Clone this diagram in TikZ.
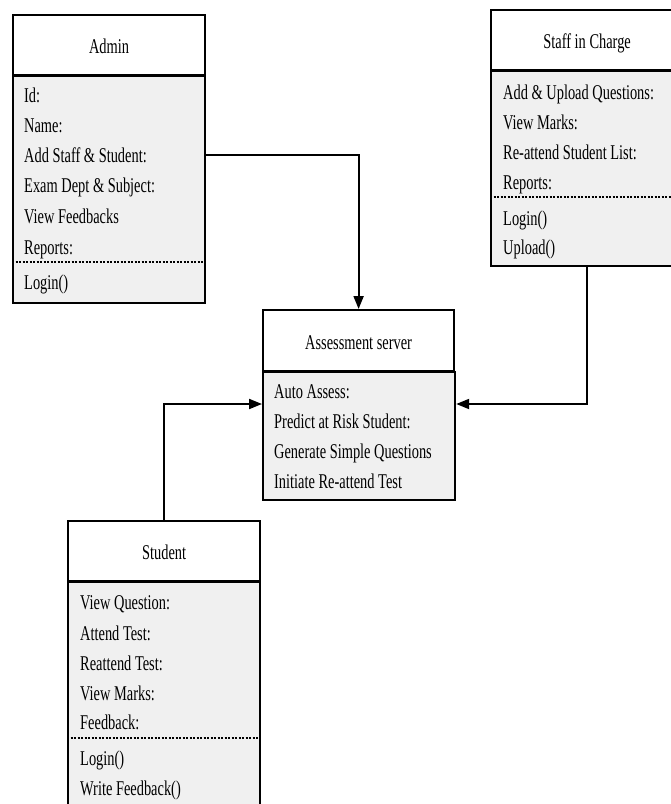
\documentclass[tikz,border=0pt]{standalone}
\usepackage{fontspec}
\setmainfont[FakeStretch=0.686]{Liberation Serif}
\usetikzlibrary{arrows.meta,calc}
\definecolor{bodygray}{HTML}{F0F0F0}
\begin{document}
\begin{tikzpicture}[x=1pt,y=-1pt,
  hdr/.style={draw=black, line width=2.2pt, fill=white, minimum width=192pt, minimum height=60pt,
    anchor=north west, inner sep=0pt, text height=17.5pt, text depth=0pt, font=\fontsize{21}{25}\selectfont},
  bdy/.style={draw=black, line width=2.2pt, fill=bodygray, minimum width=192pt, anchor=north west, inner sep=0pt},
  txt/.style={anchor=base west, inner sep=0pt, font=\fontsize{21}{25}\selectfont},
  sepline/.style={line width=2pt, dash pattern=on 2.2pt off 1.3pt},
  conn/.style={line width=2pt, -{Triangle[length=13pt,width=10pt]}}]
\useasboundingbox (0,0) rectangle (671,804);

% Admin
\node[bdy, minimum height=227pt] (adminb) at (12,75) {};
\node[hdr] (admin) at (12,14) {Admin};
\foreach \t/\y [count=\i] in {Id:/95, Name:/125, Add Staff \& Student:/155, Exam Dept \& Subject:/185, View Feedbacks/216, Reports:/247, Login()/282}
  \node[txt] (adm\i) at (24,\y+7) {\t};
\draw[sepline] (adminb.west |- 0,262) -- (adminb.east |- 0,262);

% Staff in Charge
\node[bdy, minimum height=195pt] (staffb) at (490,70) {};
\node[hdr] (staff) at (490,9) {Staff in Charge};
\foreach \t/\y [count=\i] in {Add \& Upload Questions:/92, View Marks:/122, Re-attend Student List:/152, Reports:/182, Login()/218, Upload()/247}
  \node[txt] (stf\i) at (503,\y+7) {\t};
\draw[sepline] (staffb.west |- 0,197) -- (staffb.east |- 0,197);

% Assessment server
\node[bdy, minimum height=128pt] (serverb) at (262,371) {};
\node[hdr, minimum width=191pt, minimum height=61pt] (server) at (262,309) {Assessment server};
\foreach \t/\y [count=\i] in {Auto Assess:/391, Predict at Risk Student:/421, Generate Simple Questions/451, Initiate Re-attend Test/481}
  \node[txt] (srv\i) at (274,\y+7) {\t};

% Student
\node[bdy, minimum height=240pt] (studentb) at (67,581) {};
\node[hdr] (student) at (67,520) {Student};
\foreach \t/\y [count=\i] in {View Question:/602, Attend Test:/633, Reattend Test:/663, View Marks:/693, Feedback:/722, Login()/758, Write Feedback()/788}
  \node[txt] (stu\i) at (80,\y+7) {\t};
\draw[sepline] (studentb.west |- 0,738) -- (studentb.east |- 0,738);

% connectors
\coordinate (j1) at (0,155);
\coordinate (j2) at (0,404);
\draw[conn] (adminb.east |- j1) -| (server.north);
\draw[conn] (staffb.south) |- (serverb.east |- j2);
\draw[conn] (student.north) |- (serverb.west |- j2);
\end{tikzpicture}
\end{document}
